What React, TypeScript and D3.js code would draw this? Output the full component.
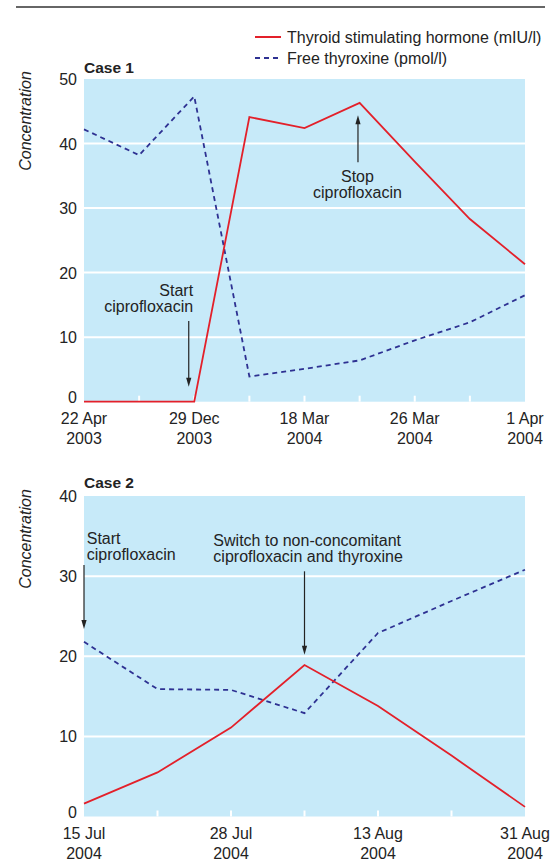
import * as d3 from "d3";

const W = 557, H = 861;
const FONT = "'Liberation Sans', Arial, Helvetica, sans-serif";
const INK = "#232323";
const RED = "#e3202a";
const NAVY = "#2e3192";
const BG = "#c7eaf9";

// Case 1: 9 sampling points, every other one labelled
const case1Labels = [
  ["22 Apr", "2003"], null, ["29 Dec", "2003"], null, ["18 Mar", "2004"],
  null, ["26 Mar", "2004"], null, ["1 Apr", "2004"],
];
const case1Tsh = [0, 0, 0, 44.1, 42.4, 46.3, 37.2, 28.3, 21.3];
const case1Ft4 = [42.2, 38.2, 47.3, 3.9, 5.1, 6.4, 9.5, 12.3, 16.5];
const case1YTicks = [0, 10, 20, 30, 40, 50];

// Case 2: 7 sampling points
const case2Labels = [
  ["15 Jul", "2004"], null, ["28 Jul", "2004"], null, ["13 Aug", "2004"], null, ["31 Aug", "2004"],
];
const case2Tsh = [1.6, 5.5, 11.1, 18.9, 13.8, 7.6, 1.2];
const case2Ft4 = [21.8, 15.9, 15.8, 12.9, 22.9, 26.9, 30.8];
const case2YTicks = [0, 10, 20, 30, 40];

type Note = {
  x: number; from: number; to: number;
  tx: number; ty: number; anchor: "start" | "middle" | "end";
  lines: string[];
};

const case1Notes: Note[] = [
  { x: 1.9, from: 12.5, to: 2.3, tx: 1.98, ty: 16.3, anchor: "end", lines: ["Start", "ciprofloxacin"] },
  { x: 4.97, from: 37.1, to: 44.4, tx: 4.96, ty: 34.1, anchor: "middle", lines: ["Stop", "ciprofloxacin"] },
];
const case2Notes: Note[] = [
  { x: 0, from: 31.4, to: 23.4, tx: 0.037, ty: 34.0, anchor: "start", lines: ["Start", "ciprofloxacin"] },
  { x: 3.0, from: 30.6, to: 20.2, tx: 1.76, ty: 33.7, anchor: "start",
    lines: ["Switch to non-concomitant", "ciprofloxacin and thyroxine"] },
];

type PanelProps = {
  title: string; top: number; bottom: number; titleY: number; labelY: number;
  labels: (string[] | null)[]; tsh: number[]; ft4: number[]; yTicks: number[]; notes: Note[];
};

function Panel({ title, top, bottom, titleY, labelY, labels, tsh, ft4, yTicks, notes }: PanelProps) {
  const left = 84, right = 525;
  const x = d3.scaleLinear([0, labels.length - 1], [left, right]);
  const y = d3.scaleLinear([0, d3.max(yTicks) as number], [bottom, top]);
  const line = d3.line<number>().x((_, i) => x(i)).y((v) => y(v));

  return (
    <g>
      <text x={left} y={titleY} fontSize={15.5} fontWeight="bold" fill={INK}>{title}</text>
      <text transform={`translate(31,${labelY}) rotate(-90)`} textAnchor="middle"
        fontSize={16} fontStyle="italic" fill={INK}>Concentration</text>
      <rect x={left} y={top} width={right - left} height={bottom - top} fill={BG} />
      {yTicks.slice(1, -1).map((t) => (
        <line key={t} x1={left} x2={right} y1={y(t)} y2={y(t)} stroke="#fff" strokeWidth={2} />
      ))}
      {labels.map((_, i) => (i > 0 && i < labels.length - 1 ? (
        <line key={i} x1={x(i)} x2={x(i)} y1={bottom} y2={bottom - 6} stroke="#fff" strokeWidth={2} />
      ) : null))}
      {yTicks.map((t) => (
        <text key={t} x={77} y={t === 0 ? y(t) + 1 : y(t) + 6} textAnchor="end" fontSize={16} fill={INK}>{t}</text>
      ))}
      {labels.map((l, i) => l && (
        <text key={i} textAnchor="middle" fontSize={16} fill={INK}>
          <tspan x={x(i)} y={bottom + 22}>{l[0]}</tspan>
          <tspan x={x(i)} y={bottom + 42}>{l[1]}</tspan>
        </text>
      ))}
      <path d={line(ft4) ?? ""} fill="none" stroke={NAVY} strokeWidth={1.8} strokeDasharray="5,4" />
      <path d={line(tsh) ?? ""} fill="none" stroke={RED} strokeWidth={1.8} strokeLinejoin="miter" />
      {notes.map((n, k) => {
        const ax = x(n.x), y0 = y(n.from), y1 = y(n.to);
        const dir = y1 > y0 ? 1 : -1;
        const head = `M${ax},${y1} L${ax - 2.6},${y1 - dir * 9} L${ax + 2.6},${y1 - dir * 9} Z`;
        return (
          <g key={k}>
            <line x1={ax} x2={ax} y1={y0} y2={y1 - dir * 6} stroke={INK} strokeWidth={1.2} />
            <path d={head} fill={INK} />
            <text textAnchor={n.anchor} fontSize={16} fill={INK}>
              {n.lines.map((s, j) => (
                <tspan key={j} x={x(n.tx)} y={y(n.ty) + j * 16}>{s}</tspan>
              ))}
            </text>
          </g>
        );
      })}
    </g>
  );
}

export default function App() {
  return (
    <svg width={W} height={H} fontFamily={FONT}
      style={{ position: "absolute", left: 0, top: 0, background: "#fff" }}>
      <line x1={16} x2={545} y1={7} y2={7} stroke="#333" strokeWidth={1.5} />
      <line x1={255} x2={281} y1={37} y2={37} stroke={RED} strokeWidth={2} />
      <text x={287} y={42.5} fontSize={16} fill={INK}>Thyroid stimulating hormone (mIU/l)</text>
      <line x1={255} x2={281} y1={58} y2={58} stroke={NAVY} strokeWidth={2} strokeDasharray="5,4" />
      <text x={287} y={63.5} fontSize={16} fill={INK}>Free thyroxine (pmol/l)</text>
      <Panel title="Case 1" top={79} bottom={401.7} titleY={73} labelY={121}
        labels={case1Labels} tsh={case1Tsh} ft4={case1Ft4} yTicks={case1YTicks} notes={case1Notes} />
      <Panel title="Case 2" top={496} bottom={816.5} titleY={488} labelY={539}
        labels={case2Labels} tsh={case2Tsh} ft4={case2Ft4} yTicks={case2YTicks} notes={case2Notes} />
    </svg>
  );
}
